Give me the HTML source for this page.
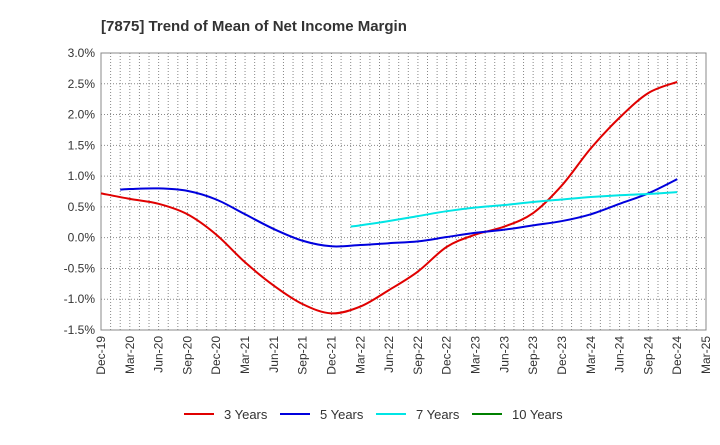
<!DOCTYPE html>
<html><head><meta charset="utf-8"><style>
body{margin:0;background:#fff;font-family:"Liberation Sans",sans-serif;}
svg text{font-family:"Liberation Sans",sans-serif;}
</style></head><body>
<svg id="chart" width="720" height="440" xmlns="http://www.w3.org/2000/svg">
<text x="101" y="31" font-size="15" font-weight="bold" fill="#333">[7875]  Trend of Mean of Net Income Margin</text>
<g id="grid"></g><g id="axes"></g><g id="series"></g><g id="legend"></g>
</svg>
<script>
const xLabels=["Dec-19","Mar-20","Jun-20","Sep-20","Dec-20","Mar-21","Jun-21","Sep-21","Dec-21","Mar-22","Jun-22","Sep-22","Dec-22","Mar-23","Jun-23","Sep-23","Dec-23","Mar-24","Jun-24","Sep-24","Dec-24","Mar-25"];
const yTicks=[3.0,2.5,2.0,1.5,1.0,0.5,0.0,-0.5,-1.0,-1.5];
const s3Months=[0,3,6,9,12,15,18,21,24,27,30,33,36,39,42,45,48,51,54,57,60];
const s3=[0.72,0.63,0.55,0.38,0.05,-0.40,-0.78,-1.08,-1.23,-1.12,-0.85,-0.55,-0.15,0.05,0.18,0.40,0.85,1.45,1.95,2.35,2.53];
const s5Months=[2,3,6,9,12,15,18,21,24,27,30,33,36,39,42,45,48,51,54,57,60];
const s5=[0.78,0.79,0.80,0.76,0.62,0.38,0.14,-0.05,-0.14,-0.12,-0.09,-0.06,0.01,0.08,0.13,0.20,0.27,0.38,0.55,0.72,0.95];
const s7Months=[26,27,30,33,36,39,42,45,48,51,54,57,60];
const s7=[0.18,0.20,0.27,0.35,0.43,0.49,0.53,0.58,0.62,0.66,0.69,0.71,0.74];
const s10Months=[];
const s10=[];
const seriesNames=["3 Years","5 Years","7 Years","10 Years"];
const colors=["#e00000","#0000dd","#00e5e5","#008000"];
const NS="http://www.w3.org/2000/svg";
const L=101,R=706,T=53,B=330;
const totalMonths=(xLabels.length-1)*3;
const x=m=>L+m*(R-L)/totalMonths;
const y=v=>T+(3.0-v)*(B-T)/4.5;
function mk(tag,attrs,parent){const e=document.createElementNS(NS,tag);for(const k in attrs)e.setAttribute(k,attrs[k]);parent.appendChild(e);return e;}
const grid=document.getElementById('grid'),axes=document.getElementById('axes'),ser=document.getElementById('series'),leg=document.getElementById('legend');
for(let m=1;m<totalMonths;m++){const xx=x(m);
const g=mk('line',{x1:xx,x2:xx,y1:T,y2:B,stroke:'#888','stroke-dasharray':'1,2','stroke-width':1},grid);

}
yTicks.forEach(v=>{const g=mk('line',{x1:L,x2:R,y1:y(v),y2:y(v),stroke:'#888','stroke-dasharray':'1,2'},grid);


const t=mk('text',{x:L-6,y:y(v)+4,'text-anchor':'end','font-size':12,fill:'#333'},axes);t.textContent=v.toFixed(1)+'%';

});
const frame=mk('rect',{x:L,y:T,width:R-L,height:B-T,fill:'none',stroke:'#888'},axes);


xLabels.forEach((lb,i)=>{const t=mk('text',{transform:`translate(${x(i*3)+4},${B+6}) rotate(-90)`,'text-anchor':'end','font-size':12,fill:'#333'},axes);t.textContent=lb;

});
function path(months,vals){const pts=vals.map((v,i)=>[x(months[i]),y(v)]);if(pts.length<2)return '';
let d=`M${pts[0][0]},${pts[0][1]}`;for(let i=0;i<pts.length-1;i++){const p0=pts[Math.max(0,i-1)],p1=pts[i],p2=pts[i+1],p3=pts[Math.min(pts.length-1,i+2)];
const c1=[p1[0]+(p2[0]-p0[0])/6,p1[1]+(p2[1]-p0[1])/6],c2=[p2[0]-(p3[0]-p1[0])/6,p2[1]-(p3[1]-p1[1])/6];
d+=` C${c1[0]},${c1[1]} ${c2[0]},${c2[1]} ${p2[0]},${p2[1]}`;}return d;}
const allMonths=[s3Months,s5Months,s7Months,s10Months];
[s3,s5,s7,s10].forEach((s,k)=>{const d=path(allMonths[k],s);if(d){const p=mk('path',{d:d,fill:'none',stroke:colors[k],'stroke-width':2},ser);

}});
const lx=[184,280,376,472];
seriesNames.forEach((n,k)=>{const g=mk('g',{},leg);


mk('line',{x1:lx[k],x2:lx[k]+30,y1:414,y2:414,stroke:colors[k],'stroke-width':2},g);
const t=mk('text',{x:lx[k]+40,y:419,'font-size':13,fill:'#333'},g);t.textContent=n;});
</script>
</body></html>
